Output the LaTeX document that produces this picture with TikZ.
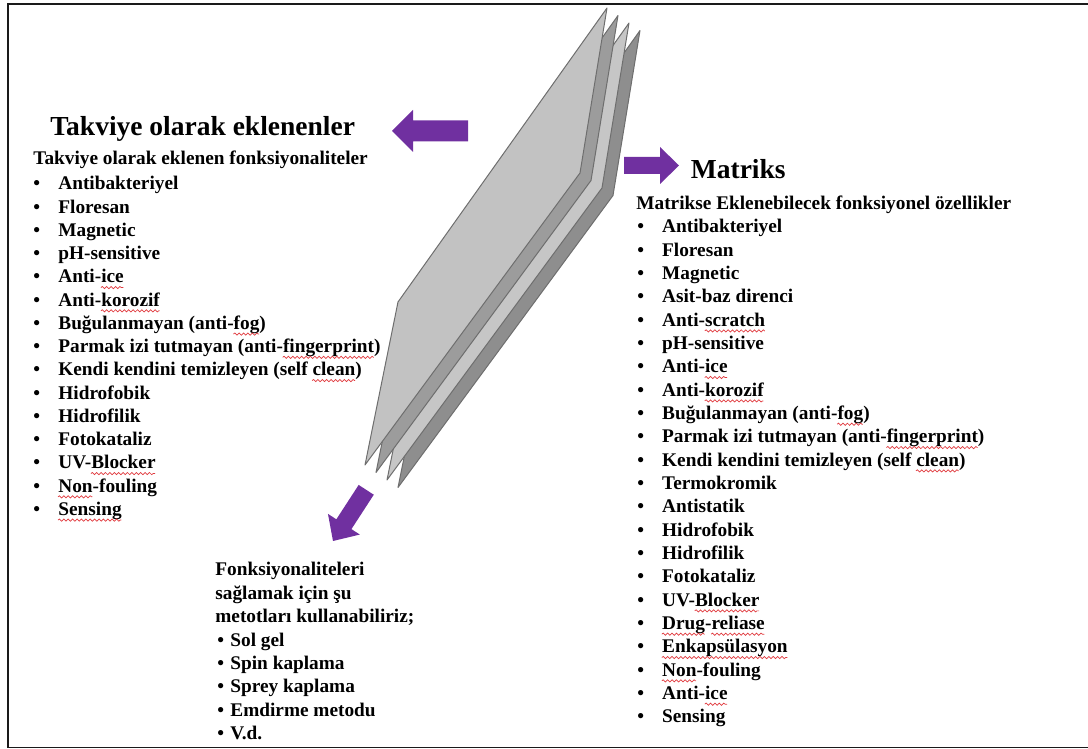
\documentclass[tikz,border=0pt]{standalone}
\usepackage{fontspec}
\setmainfont{Liberation Serif}
\usepackage{tikz}
\usetikzlibrary{decorations.pathmorphing}
\definecolor{ink}{HTML}{1A1A1A}
\definecolor{purp}{HTML}{7030A0}
\definecolor{wavered}{HTML}{E0393E}
\definecolor{edge}{HTML}{6E6E6E}
\definecolor{sheetA}{HTML}{C2C2C2}
\definecolor{sheetB}{HTML}{9C9C9C}
\definecolor{sheetC}{HTML}{C6C6C6}
\definecolor{sheetD}{HTML}{8E8E8E}

% red spell-check wave under a word
\tikzset{spellwave/.style={draw=wavered,line width=.35pt,decorate,
  decoration={snake,amplitude=.55pt,segment length=2.2pt}}}
\newsavebox\spellbox
\newcommand\spellmark[1]{\sbox\spellbox{#1}\usebox\spellbox\llap{\tikz[baseline=0pt]{%
  \path[spellwave] (0pt,-2.3pt)--(\the\wd\spellbox,-2.3pt);}}}

\begin{document}
\begin{tikzpicture}[x=.5pt,y=.5pt,font=\bfseries\fontsize{9.65}{11.65}\selectfont,
  txt/.style={anchor=base west,inner sep=0pt},
  ttl/.style={txt,font=\bfseries\fontsize{13.75}{16}\selectfont},
  sheet/.style={draw=edge,line width=.5pt,line join=round}]
\useasboundingbox (0,0) rectangle (1088,749);

% frame
\draw[ink,line width=.8pt] (1088,745)--(8,745)--(8,1.5)--(1088,1.5);

% stack of sheets, back to front
\foreach \k/\f in {3/sheetD,2/sheetC,1/sheetB,0/sheetA}{
  \filldraw[sheet,fill=\f,shift={(11*\k,-7.5*\k)}]
    (607,741)--(580,576)--(365,284)--(398,447)--cycle;
}

% block arrows
\fill[purp] (392,618)--(413,639)--(413,628.5)--(468,628.5)--(468,607.5)--(413,607.5)--(413,597)--cycle;
\fill[purp] (679,583.5)--(660,602)--(660,592)--(624,592)--(624,575)--(660,575)--(660,565)--cycle;
\begin{scope}[shift={(333,208)},rotate=237]
  \fill[purp] (0,0)--(-20,19)--(-20,9)--(-61,9)--(-61,-9)--(-20,-9)--(-20,-19)--cycle;
\end{scope}

% left: reinforcement
\node[ttl] (lhead) at (50,613) {Takviye olarak eklenenler};
\node[txt] (lsub) at (33,584) {Takviye olarak eklenen fonksiyonaliteler};
\foreach \t [count=\i] in {Antibakteriyel,Floresan,Magnetic,pH-sensitive,
  Anti-\spellmark{ice},Anti-\spellmark{korozif},Buğulanmayan (anti-\spellmark{fog}),
  Parmak izi tutmayan (anti-\spellmark{fingerprint}),
  Kendi kendini temizleyen (self \spellmark{clean}),Hidrofobik,Hidrofilik,Fotokataliz,
  UV-\spellmark{Blocker},\spellmark{Non}-fouling,\spellmark{Sensing}}
  \node[txt] (l\i) at (33,{559-23.25*(\i-1)}) {\makebox[12.5pt][l]{\textbullet}\t};

% right: matrix
\node[ttl] (rhead) at (690.5,570) {Matriks};
\node[txt] (rsub) at (636,539) {Matrikse Eklenebilecek fonksiyonel özellikler};
\foreach \t [count=\i] in {Antibakteriyel,Floresan,Magnetic,Asit-baz direnci,
  Anti-\spellmark{scratch},pH-sensitive,Anti-\spellmark{ice},Anti-\spellmark{korozif},
  Buğulanmayan (anti-\spellmark{fog}),Parmak izi tutmayan (anti-\spellmark{fingerprint}),
  Kendi kendini temizleyen (self \spellmark{clean}),Termokromik,Antistatik,Hidrofobik,
  Hidrofilik,Fotokataliz,UV-\spellmark{Blocker},\spellmark{Drug}-\spellmark{reliase},
  \spellmark{Enkapsülasyon},\spellmark{Non}-fouling,Anti-\spellmark{ice},Sensing}
  \node[txt] (r\i) at (637,{516-23.33*(\i-1)}) {\makebox[12.4pt][l]{\textbullet}\t};

% bottom: methods
\foreach \t [count=\i] in {Fonksiyonaliteleri,sağlamak için şu,metotları kullanabiliriz;}
  \node[txt] (m\i) at (215,{173-23.4*(\i-1)}) {\t};
\foreach \t [count=\i] in {Sol gel,Spin kaplama,Sprey kaplama,Emdirme metodu,V.d.}
  \node[txt] (b\i) at (217,{102.8-23.4*(\i-1)}) {\makebox[6.5pt][l]{\textbullet}\t};

\end{tikzpicture}
\end{document}
